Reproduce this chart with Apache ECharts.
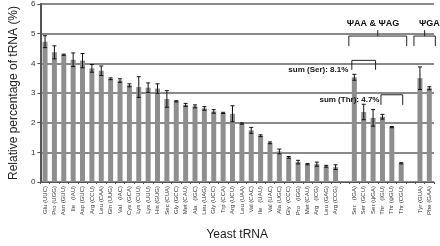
<!DOCTYPE html>
<html lang="en">
<head>
  <meta charset="UTF-8">
  <title>Yeast tRNA</title>
  <style type="text/css">
    html, body { margin: 0; padding: 0; background: #fff; }
    #chart { width: 440px; height: 246px; }
  </style>
</head>
<body>
  <div id="chart"></div>
  <script src="https://cdn.jsdelivr.net/npm/echarts@6/dist/echarts.min.js"></script>
  <script>
    // categories, '' = empty slot between groups
    const trnas = [
      'Glu (UUC)', 'Pro (UGG)', 'Asn (GUU)', 'Ile   (IAU)', 'Asp (GUC)', 'Arg (CCU)', 'Leu (CAA)', 'Gln (UUG)',
      'Val   (IAC)', 'Cys (GCA)', 'Lys (CUU)', 'Lys (UUU)', 'His (GUG)', 'Sec (CUA)', 'Gly (GCC)', 'Met (CAU)',
      'Ala   (IGC)', 'Leu (UAG)', 'Gly (UCC)', 'Trp (CCA)', 'Arg (UCU)', 'Leu (UAA)', 'Val (CAC)', 'Ile   (UAU)',
      'Val (UAC)', 'Ala (UGC)', 'Gly  (CCC)', 'Pro   (IGG)', 'Met (CAU)', 'Arg   (ICG)', 'Leu (GAG)', 'Arg (CCG)',
      '',
      'Ser   (IGA)', 'Ser (GCU)', 'Ser (ψGA)', 'Thr   (IGU)', 'Thr (ψGU)', 'Thr (CGU)',
      '',
      'Tyr (GUA)', 'Phe (GAA)'
    ]
    const percent = [
      4.73, 4.37, 4.29, 4.12, 4.09, 3.83, 3.75, 3.48,
      3.42, 3.26, 3.20, 3.18, 3.15, 2.80, 2.72, 2.60,
      2.55, 2.48, 2.38, 2.33, 2.30, 1.97, 1.74, 1.56,
      1.32, 1.03, 0.83, 0.67, 0.60, 0.60, 0.53, 0.50,
      null,
      3.53, 2.36, 2.16, 2.20, 1.85, 0.63,
      null,
      3.50, 3.16
    ]
    const errors = [
      0.20, 0.22, 0.02, 0.23, 0.24, 0.13, 0.16, 0.03,
      0.06, 0.05, 0.35, 0.16, 0.16, 0.28, 0.02, 0.05,
      0.05, 0.06, 0.06, 0.02, 0.27, 0.02, 0.10, 0.03,
      0.03, 0.08, 0.03, 0.06, 0.02, 0.07, 0.03, 0.08,
      null,
      0.10, 0.26, 0.28, 0.08, 0.02, 0.02,
      null,
      0.38, 0.05
    ]
    const yTicks = [0, 1, 2, 3, 4, 5, 6]

    const font = 'Liberation Sans, Arial, sans-serif'
    const errData = percent.map((v, i) => v == null ? null : [i, v - errors[i], v + errors[i]])

    const chart = echarts.init(document.getElementById('chart'))

    const option = {
      animation: false,
      grid: { left: 30, right: 6, top: 3, bottom: 58 },
      xAxis: {
        type: 'category',
        data: trnas,
        name: 'Yeast tRNA',
        nameLocation: 'middle',
        nameGap: 47,
        nameTextStyle: { fontFamily: font, fontSize: 12, color: '#222' },
        axisLine: { lineStyle: { color: '#555', width: 1 } },
        axisTick: { show: true, length: 2, lineStyle: { color: '#555' } },
        axisLabel: {
          interval: 0, rotate: 90, fontSize: 6, fontFamily: font, color: '#333', margin: 4
        }
      },
      yAxis: {
        type: 'value',
        min: 0,
        max: 6,
        interval: 1,
        name: 'Relative percentage of tRNA (%)',
        nameLocation: 'middle',
        nameGap: 19,
        nameTextStyle: { fontFamily: font, fontSize: 12, color: '#222' },
        axisLine: { show: true, lineStyle: { color: '#555', width: 2 } },
        axisTick: { show: true, length: 3, lineStyle: { color: '#555' } },
        axisLabel: {
          fontSize: 8, fontFamily: font, color: '#333', margin: 5,
          formatter: v => yTicks.includes(v) ? String(v) : ''
        },
        splitLine: { lineStyle: { color: '#8a8a8a', width: 2 } }
      },
      series: [
        {
          type: 'bar',
          data: percent,
          barWidth: 5,
          itemStyle: { color: '#8e8e8e' }
        },
        {
          type: 'custom',
          data: errData.filter(d => d),
          renderItem: (params, api) => {
            const x = api.value(0)
            const lo = api.coord([x, api.value(1)])
            const hi = api.coord([x, api.value(2)])
            const cap = 2
            const style = { stroke: '#111', lineWidth: 1 }
            return {
              type: 'group',
              children: [
                { type: 'line', shape: { x1: lo[0], y1: lo[1], x2: hi[0], y2: hi[1] }, style },
                { type: 'line', shape: { x1: lo[0] - cap, y1: lo[1], x2: lo[0] + cap, y2: lo[1] }, style },
                { type: 'line', shape: { x1: hi[0] - cap, y1: hi[1], x2: hi[0] + cap, y2: hi[1] }, style }
              ]
            }
          },
          z: 5
        }
      ]
    }

    chart.setOption(option)

    // brackets and notes, placed from category index / value
    const px = (i, v) => chart.convertToPixel({ gridIndex: 0 }, [i, v])
    const lineStyle = { stroke: '#222', lineWidth: 1 }
    const bold = { fontFamily: font, fontWeight: 'bold', fontSize: 9, fill: '#111' }

    function bracket (i0, i1, pad, top, bottom, tick) {
      const a = px(i0, top)
      const b = px(i1, top)
      const yb = px(i0, bottom)[1]
      const x0 = a[0] - pad
      const x1 = b[0] + pad
      const out = [
        { type: 'polyline', shape: { points: [[x0, yb], [x0, a[1]], [x1, a[1]], [x1, yb]] }, style: Object.assign({ fill: null }, lineStyle), z: 10 }
      ]
      if (tick != null) {
        const t = px(i0, tick)[1]
        const xm = (x0 + x1) / 2
        out.push({ type: 'line', shape: { x1: xm, y1: a[1], x2: xm, y2: t }, style: lineStyle, z: 10 })
      }
      return out
    }

    const serTop = px(33, 4.1)
    const thrTop = px(36, 2.94)
    const psiA = px(35.3, 5.35)
    const psiG = px(40.5, 5.35)

    chart.setOption({
      graphic: [
        ...bracket(33, 35, 2.5, 4.1, 3.78),
        ...bracket(36, 38, 1.5, 2.94, 2.6),
        ...bracket(33, 38, 5.5, 4.92, 4.58, 5.12),
        ...bracket(40, 41, 6, 4.92, 4.58, 5.12),
        { type: 'text', x: serTop[0] - 6, y: serTop[1] + 9, style: Object.assign({ text: 'sum (Ser): 8.1%', align: 'right', verticalAlign: 'middle' }, bold, { fontSize: 8 }), z: 10 },
        { type: 'text', x: thrTop[0] - 3, y: thrTop[1] + 5, style: Object.assign({ text: 'sum (Thr): 4.7%', align: 'right', verticalAlign: 'middle' }, bold, { fontSize: 8 }), z: 10 },
        { type: 'text', x: psiA[0], y: psiA[1], style: Object.assign({ text: 'ΨAA & ΨAG', align: 'center', verticalAlign: 'middle' }, bold), z: 10 },
        { type: 'text', x: psiG[0], y: psiG[1], style: Object.assign({ text: 'ΨGA', align: 'center', verticalAlign: 'middle' }, bold), z: 10 }
      ]
    })
  </script>
</body>
</html>
